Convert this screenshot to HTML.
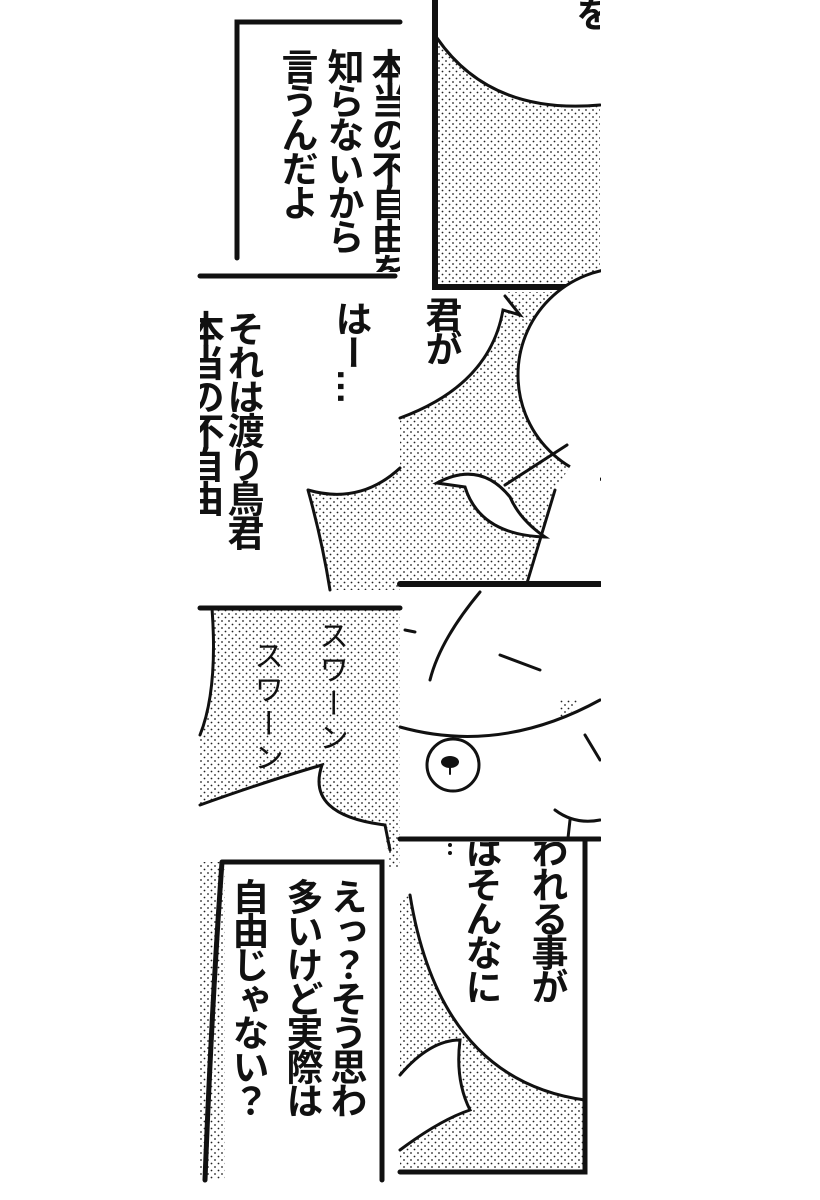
<!DOCTYPE html>
<html><head><meta charset="utf-8"><style>
html,body{margin:0;padding:0;background:#fff;}
#w{position:relative;width:820px;height:1200px;overflow:hidden;background:#fff;}
svg{position:absolute;left:0;top:0;}
.t{position:absolute;writing-mode:vertical-rl;font-family:"Liberation Sans","Noto Sans CJK JP",sans-serif;font-weight:bold;font-size:37px;letter-spacing:-3px;line-height:1;color:#111;white-space:nowrap;}
.clip{position:absolute;overflow:hidden;}
.h{font-weight:400;font-size:30px;letter-spacing:4px;}
</style></head><body><div id="w">
<svg width="820" height="1200" viewBox="0 0 820 1200">
<defs>
<pattern id="d" width="7" height="7" patternUnits="userSpaceOnUse"><circle cx="1.5" cy="1.5" r="0.9" fill="#222"/><circle cx="5" cy="5" r="0.9" fill="#222"/></pattern>
<clipPath id="c"><rect x="0" y="0" width="601" height="1200"/></clipPath>
</defs>
<g fill="none" stroke="#111" stroke-linecap="round" clip-path="url(#c)">
<path d="M237,258 L237,22 L400,22" stroke-width="5"/>
<path d="M200,276 L395,276" stroke-width="5"/>
<path d="M437,38 Q490,115 600,105 L600,287 L437,287 Z" fill="url(#d)" stroke="none"/>
<path d="M437,38 Q490,115 600,105" stroke-width="3"/>
<path d="M435,0 L435,287 L600,287" stroke-width="6"/>
<path d="M308,490 Q360,505 400,468 L400,590 L330,590 Q322,540 308,490 Z" fill="url(#d)" stroke="none"/>
<path d="M308,490 Q360,505 400,468 M330,590 Q322,540 308,490" stroke-width="3"/>
<rect x="400" y="292" width="200" height="291" fill="url(#d)" stroke="none"/>
<path d="M400,292 L505,292 L520,315 L503,310 Q490,385 400,418 Z" fill="#fff" stroke="none"/>
<path d="M505,296 L520,315 L503,310 Q490,385 400,418" stroke-width="3"/>
<circle cx="625" cy="375" r="107" fill="#fff" stroke-width="3"/>
<path d="M600,420 L600,583 L527,583 L555,490 Z" fill="#fff" stroke="none"/>
<path d="M567,445 L505,485 M555,490 L527,583" stroke-width="3"/>
<path d="M510,497 Q480,460 437,483 L465,487 Q480,535 545,537 Q520,520 510,497 Z" fill="#fff" stroke-width="3"/>
<path d="M400,584 L600,584" stroke-width="6"/>
<rect x="200" y="608" width="200" height="260" fill="url(#d)" stroke="none"/>
<path d="M200,608 L212,608 Q218,690 200,735 Z" fill="#fff" stroke="none"/>
<path d="M212,608 Q218,690 200,735" stroke-width="3"/>
<path d="M200,805 Q270,780 322,765 Q305,815 385,825 L390,885 L200,885 Z" fill="#fff" stroke="none"/>
<path d="M200,805 Q270,780 322,765 Q305,815 385,825 L390,850" stroke-width="3"/>
<path d="M200,608 L400,608" stroke-width="5"/>
<rect x="560" y="700" width="40" height="140" fill="url(#d)" stroke="none"/>
<path d="M600,590 Q600,700 560,720 Q520,740 400,730 L400,840 L600,840 Z" fill="#fff" stroke="none"/>
<path d="M480,592 Q440,640 430,680 M500,655 L540,670 M405,630 L415,632 M400,727 Q500,755 600,700 M585,735 L600,760 M555,810 Q575,825 600,820 M570,820 L568,838" stroke-width="3"/>
<circle cx="453" cy="765" r="26" fill="#fff" stroke-width="3"/>
<ellipse cx="450" cy="762" rx="9" ry="6" fill="#111" stroke="none"/>
<path d="M450,766 L450,774" stroke-width="2"/>
<path d="M400,839 L600,839" stroke-width="5"/>
<rect x="200" y="862" width="25" height="318" fill="url(#d)" stroke="none"/>
<path d="M222,862 L382,862 L382,1180 M222,862 Q212,1000 205,1180" stroke-width="5"/>
<path d="M410,895 Q440,1080 585,1100 L585,1170 L400,1170 L400,900 Z" fill="url(#d)" stroke="none"/>
<path d="M410,895 Q440,1080 585,1100" stroke-width="3"/>
<path d="M400,1075 Q430,1040 460,1040 Q455,1080 470,1110 Q440,1120 400,1150" fill="#fff" stroke-width="3"/>
<path d="M585,840 L585,1172 L400,1172" stroke-width="5"/>
<circle cx="450" cy="845" r="2" fill="#111" stroke="none"/><circle cx="450" cy="853" r="2" fill="#111" stroke="none"/>
</g>
</svg>
<div class="clip" style="left:200px;top:0;width:200px;height:272px">
<div class="t" style="left:168px;top:48px">本当の不自由を</div>
<div class="t" style="left:124px;top:48px">知らないから</div>
<div class="t" style="left:78px;top:48px">言うんだよ</div>
</div>
<div class="clip" style="left:400px;top:0;width:200px;height:40px"><div class="t" style="left:172px;top:-5px">を</div></div>
<div class="clip" style="left:200px;top:282px;width:200px;height:308px">
<div class="t" style="left:132px;top:18px">はー…</div>
<div class="t" style="left:24px;top:28px">それは渡り鳥君</div>
<div class="t" style="left:-16px;top:28px">本当の不自由</div>
</div>
<div class="t" style="left:422px;top:296px">君が</div>
<div class="t h" style="left:315px;top:620px">スワーン</div>
<div class="t h" style="left:250px;top:640px">スワーン</div>
<div class="clip" style="left:225px;top:866px;width:155px;height:314px">
<div class="t" style="left:102px;top:12px">えっ？そう思わ</div>
<div class="t" style="left:58px;top:12px">多いけど実際は</div>
<div class="t" style="left:4px;top:12px">自由じゃない？</div>
</div>
<div class="clip" style="left:400px;top:842px;width:182px;height:240px">
<div class="t" style="left:128px;top:-10px">われる事が</div>
<div class="t" style="left:62px;top:-10px">はそんなに</div>
</div>
</div></body></html>
